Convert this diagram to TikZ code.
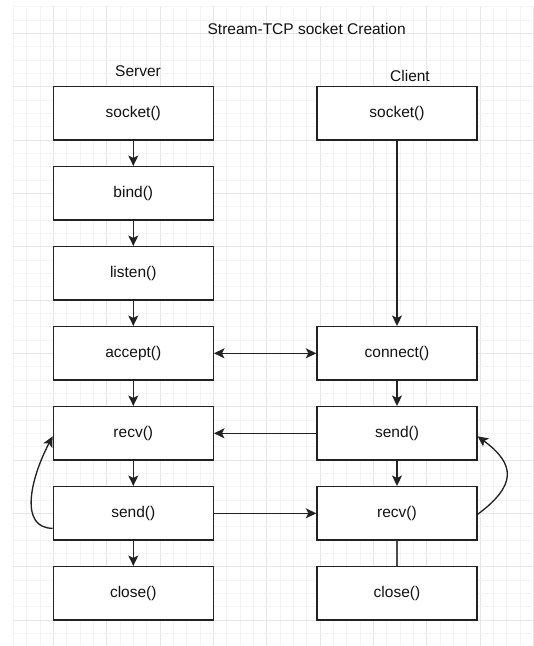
\documentclass[tikz,border=0pt]{standalone}
\usepackage{fontspec}
\setmainfont{Liberation Sans}
\usetikzlibrary{arrows.meta}

\definecolor{gridminor}{HTML}{F3F3F3}
\definecolor{gridmajor}{HTML}{E6E6E6}
\definecolor{ink}{HTML}{111111}
\definecolor{edge}{HTML}{222222}

\tikzset{
  callbox/.style={draw=edge, line width=1.33pt, fill=white, text=ink,
    minimum width=160pt, minimum height=53.33pt, inner sep=0pt,
    font=\fontsize{15.5}{18}\selectfont},
  label text/.style={text=ink, inner sep=0pt, font=\fontsize{15.5}{18}\selectfont},
  flow/.style={draw=edge, line width=1.33pt,
    -{Stealth[length=10.5pt,width=10pt,inset=2.5pt]}},
  bothflow/.style={draw=edge, line width=1.33pt,
    {Stealth[length=10.5pt,width=10pt,inset=2.5pt]}-{Stealth[length=10.5pt,width=10pt,inset=2.5pt]}},
  plainline/.style={draw=black!70, line width=1.33pt},
}

\begin{document}
\begin{tikzpicture}[x=1pt, y=-1pt]
  \useasboundingbox (0,0) rectangle (534,646);
  \fill[white] (0,0) rectangle (534,646);

  % background grid: minor every 13.33, major every 4 cells
  \foreach \i in {1,...,40} {
    \pgfmathsetmacro{\gx}{13.333*\i}
    \pgfmathtruncatemacro{\ismajor}{mod(\i,4)==0 ? 1 : 0}
    \ifnum\ismajor=1
      \draw[gridmajor, line width=0.7pt] (\gx,6.67) -- (\gx,646);
    \else
      \draw[gridminor, line width=0.7pt] (\gx,6.67) -- (\gx,646);
    \fi
  }
  \foreach \j in {0,...,48} {
    \pgfmathsetmacro{\gy}{6.667+13.333*\j}
    \pgfmathtruncatemacro{\ismajor}{mod(\j,4)==2 ? 1 : 0}
    \ifnum\ismajor=1
      \draw[gridmajor, line width=0.7pt] (13.33,\gy) -- (534,\gy);
    \else
      \draw[gridminor, line width=0.7pt] (13.33,\gy) -- (534,\gy);
    \fi
  }

  % headings
  \node[label text] (title) at (306.7,28.5) {Stream-TCP socket Creation};
  \node[label text] (server) at (138,71) {Server};
  \node[label text] (client) at (410,75.5) {Client};

  % server column
  \node[callbox] (s1) at (133.3,113.3) {socket()};
  \node[callbox] (s2) at (133.3,193.3) {bind()};
  \node[callbox] (s3) at (133.3,273.3) {listen()};
  \node[callbox] (s4) at (133.3,353.3) {accept()};
  \node[callbox] (s5) at (133.3,433.3) {recv()};
  \node[callbox] (s6) at (133.3,513.3) {send()};
  \node[callbox] (s7) at (133.3,593.3) {close()};

  % client column
  \node[callbox] (c1) at (397,113.3) {socket()};
  \node[callbox] (c2) at (397,353.3) {connect()};
  \node[callbox] (c3) at (397,433.3) {send()};
  \node[callbox] (c4) at (397,513.3) {recv()};
  \node[callbox] (c5) at (397,593.3) {close()};

  % server sequence
  \draw[flow] (s1) -- (s2);
  \draw[flow] (s2) -- (s3);
  \draw[flow] (s3) -- (s4);
  \draw[flow] (s4) -- (s5);
  \draw[flow] (s5) -- (s6);
  \draw[flow] (s6) -- (s7);

  % client sequence
  \draw[flow] (c1) -- (c2);
  \draw[flow] (c2) -- (c3);
  \draw[flow] (c3) -- (c4);
  \draw[plainline] (c4) -- (c5);

  % exchanges between the two sides
  \draw[bothflow] (s4) -- (c2);
  \draw[flow] (c3) -- (s5);
  \draw[flow] (s6) -- (c4);

  % loops back from send to recv
  \draw[flow] ([yshift=-15pt]s6.west) .. controls +(-33,0) and +(-23,44) .. ([yshift=-3pt]s5.west);
  \draw[flow] ([yshift=-1pt]c4.east) .. controls +(39,-29) and +(38,28) .. ([yshift=-3pt]c3.east);
\end{tikzpicture}
\end{document}
